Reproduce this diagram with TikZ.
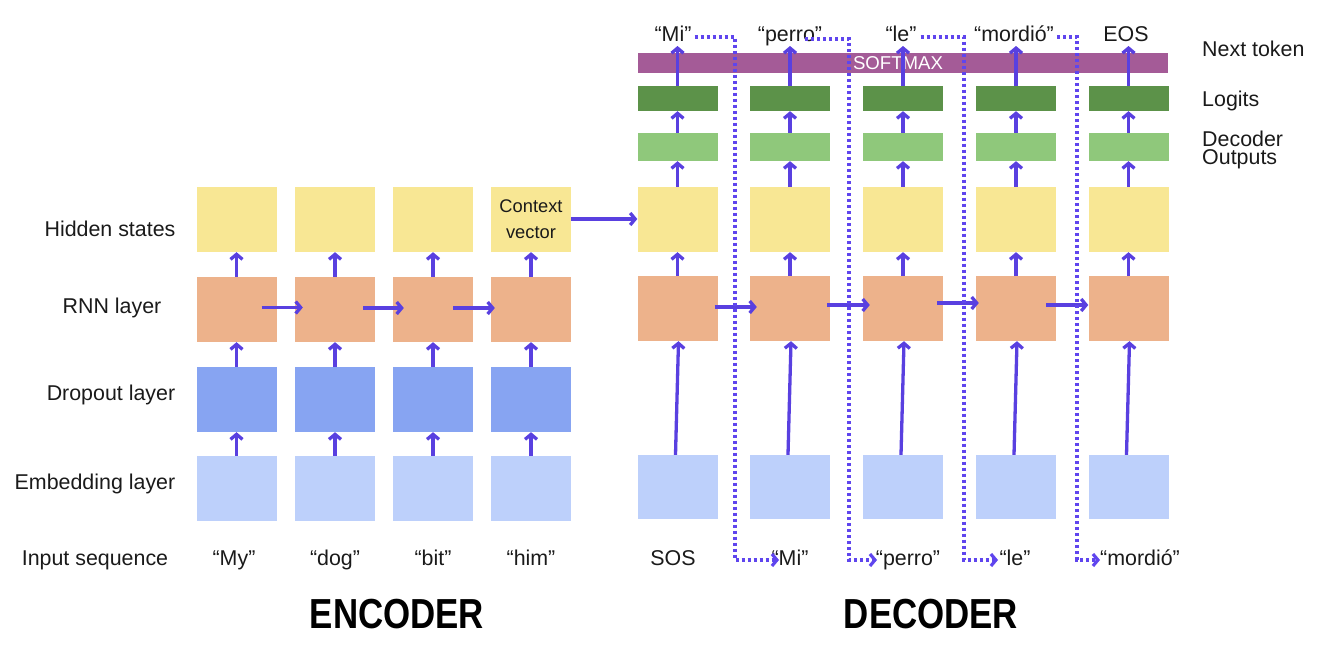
\documentclass[tikz,border=0pt]{standalone}
\usepackage{fontspec}
\setmainfont{Liberation Sans}
\usetikzlibrary{arrows.meta,calc}
\definecolor{hid}{HTML}{F8E794}
\definecolor{rnn}{HTML}{EDB28B}
\definecolor{drp}{HTML}{87A4F2}
\definecolor{emb}{HTML}{BDD0FB}
\definecolor{smx}{HTML}{A45B97}
\definecolor{lgt}{HTML}{5C9249}
\definecolor{dout}{HTML}{8FC87B}
\definecolor{arrc}{HTML}{5940E0}
\definecolor{dotc}{HTML}{5F45EE}
\definecolor{txt}{HTML}{1A1A1A}
\begin{document}
\begin{tikzpicture}[x=1pt,y=-1pt,
  box/.style={draw=none, inner sep=0pt, minimum width=80pt},
  lbl/.style={text=txt, inner sep=0pt, font=\fontsize{21.4}{24}\selectfont},
  big/.style={text=black, inner sep=0pt, font=\fontsize{42}{46}\selectfont\bfseries},
  arr/.style={draw=arrc, line width=3.3pt, -{Straight Barb[length=5pt,width=12pt]}},
  dotarr/.style={draw=dotc, line width=3.2pt, dash pattern=on 3pt off 3pt, -{Straight Barb[length=5pt,width=12pt]}}
]
\useasboundingbox (0,0) rectangle (1317,646);

% ---------- Encoder boxes ----------
\foreach \i/\x in {1/236.5,2/335,3/433,4/531} {
  \node[box, fill=rnn, minimum height=65pt] (er\i) at (\x,309.5) {};
  \node[box, fill=drp, minimum height=65pt] (ed\i) at (\x,399.5) {};
  \node[box, fill=emb, minimum height=65pt] (ee\i) at (\x,488.5) {};
}
\foreach \i/\x in {1/236.5,2/335,3/433} {
  \node[box, fill=hid, minimum height=65pt] (eh\i) at (\x,219.5) {};
}
\node[box, fill=hid, minimum height=65pt, align=center, text=txt,
      font=\fontsize{18.3}{26}\selectfont] (eh4) at (531,219.5) {Context\\vector};

% ---------- Decoder boxes ----------
\node[box, fill=smx, minimum width=530pt, minimum height=20pt] (sm) at (903,63) {};
\foreach \i/\x in {1/677.5,2/790,3/903,4/1016,5/1128.5} {
  \node[box, fill=lgt, minimum height=25pt] (dl\i) at (\x,98.5) {};
  \node[box, fill=dout, minimum height=28pt] (do\i) at (\x,147) {};
  \node[box, fill=hid, minimum height=65pt] (dh\i) at (\x,219.5) {};
  \node[box, fill=rnn, minimum height=65pt] (dr\i) at (\x,308.5) {};
  \node[box, fill=emb, minimum height=64pt] (de\i) at (\x,487) {};
}
\node[anchor=base, inner sep=0pt, text=white, font=\fontsize{18.6}{20}\selectfont] (smt) at (898,69.5) {SOFTMAX};

% ---------- Left labels ----------
\node[lbl, anchor=base] (lh) at (110,236) {Hidden states};
\node[lbl, anchor=base] (lr) at (112,313) {RNN layer};
\node[lbl, anchor=base] (ld) at (111,400) {Dropout layer};
\node[lbl, anchor=base] (le) at (95,489) {Embedding layer};
\node[lbl, anchor=base] (li) at (95,565) {Input sequence};

% ---------- Right labels ----------
\node[lbl, anchor=base west] (rn) at (1202,56) {Next token};
\node[lbl, anchor=base west] (rl) at (1202,106) {Logits};
\node[lbl, anchor=base west] (rd) at (1202,146) {Decoder};
\node[lbl, anchor=base west] (ro) at (1202,164) {Outputs};

% ---------- Input tokens ----------
\node[lbl, anchor=base] (b1) at (234,565) {“My”};
\node[lbl, anchor=base] (b2) at (335,565) {“dog”};
\node[lbl, anchor=base] (b3) at (433,565) {“bit”};
\node[lbl, anchor=base] (b4) at (531,565) {“him”};
\node[lbl, anchor=base] (s0) at (673,565) {SOS};
\node[lbl, anchor=base] (s1) at (790,565) {“Mi”};
\node[lbl, anchor=base] (s2) at (908,565) {“perro”};
\node[lbl, anchor=base] (s3) at (1015,565) {“le”};
\node[lbl, anchor=base] (s4) at (1140,565) {“mordió”};

% ---------- Output tokens ----------
\node[lbl, anchor=base] (t1) at (673,41) {“Mi”};
\node[lbl, anchor=base] (t2) at (790,41) {“perro”};
\node[lbl, anchor=base] (t3) at (901,41) {“le”};
\node[lbl, anchor=base] (t4) at (1014,41) {“mordió”};
\node[lbl, anchor=base] (t5) at (1126,41) {EOS};

% ---------- Titles ----------
\node[big, anchor=base] (enc) at (397,628) {\scalebox{0.83}[1]{ENCODER}};
\node[big, anchor=base] (dec) at (931,628) {\scalebox{0.83}[1]{DECODER}};

% ---------- Encoder arrows ----------
\foreach \i in {1,2,3,4} {
  \draw[arr] (ee\i.north) -- (ed\i.south);
  \draw[arr] (ed\i.north) -- (er\i.south);
  \draw[arr] (er\i.north) -- (eh\i.south);
}
\draw[arr] ($(er1.east)+(-15,-2)$) -- ($(er2.west)+(8,-2)$);
\draw[arr] ($(er2.east)+(-12,-1.5)$) -- ($(er3.west)+(11,-1.5)$);
\draw[arr] ($(er3.east)+(-20,-1.5)$) -- ($(er4.west)+(4,-1.5)$);
\draw[arr] ($(eh4.east)+(0,-0.5)$) -- ($(dh1.west)+(0,-0.5)$);

% ---------- Decoder arrows ----------
\foreach \i in {1,2,3,4,5} {
  \draw[arr] ($(de\i.north)+(-2,0)$) -- ($(dr\i.south)+(1,0)$);
  \draw[arr] (dr\i.north) -- (dh\i.south);
  \draw[arr] (dh\i.north) -- (do\i.south);
  \draw[arr] (do\i.north) -- (dl\i.south);
  \draw[arr] (dl\i.north) -- ($(dl\i.north |- t1.base)+(0,5)$);
}
\draw[arr] ($(dr1.east)+(-3,-1.5)$) -- ($(dr2.west)+(7,-1.5)$);
\draw[arr] ($(dr2.east)+(-3,-3.5)$) -- ($(dr3.west)+(7,-3.5)$);
\draw[arr] ($(dr3.east)+(-6,-5.5)$) -- ($(dr4.west)+(3,-5.5)$);
\draw[arr] ($(dr4.east)+(-10,-3.5)$) -- ($(dr5.west)+(0,-3.5)$);

% ---------- Dotted feedback arrows ----------
\coordinate (p1a) at (735,37);  \coordinate (p1b) at (735,560); \coordinate (p1c) at (779,560);
\coordinate (p2a) at (849,39);  \coordinate (p2b) at (849,560); \coordinate (p2c) at (877,560);
\coordinate (p3a) at (964,37);  \coordinate (p3b) at (964,560); \coordinate (p3c) at (998,560);
\coordinate (p4a) at (1077,37); \coordinate (p4b) at (1077,560); \coordinate (p4c) at (1100,560);
\draw[dotarr] ($(t1.east |- p1a)+(3,0)$) -- (p1a) -- (p1b) -- (p1c);
\draw[dotarr] ($(t2.east |- p2a)+(-17,0)$) -- (p2a) -- (p2b) -- (p2c);
\draw[dotarr] ($(t3.east |- p3a)+(4,0)$) -- (p3a) -- (p3b) -- (p3c);
\draw[dotarr] ($(t4.east |- p4a)+(3,0)$) -- (p4a) -- (p4b) -- (p4c);
\end{tikzpicture}
\end{document}
